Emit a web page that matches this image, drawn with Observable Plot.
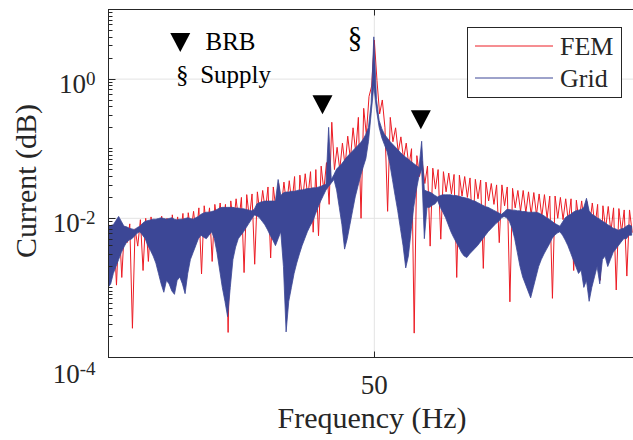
<!DOCTYPE html>
<html><head><meta charset="utf-8">
<script src="https://cdn.jsdelivr.net/npm/d3@7"></script>
<script src="https://cdn.jsdelivr.net/npm/@observablehq/plot@0.6"></script>
<style>
body{margin:0;background:#fff;}
svg{font-family:"Liberation Serif","Times New Roman",serif;}
</style>
</head><body><div id="chart"></div>
<script>
// Frequency grid (Hz) of the spectra
const freqStart = 30, freqStep = 0.2;
// log10 of current amplitude, FEM model (red line)
const femLog = [
-2.08,-2.4,-2.15,-2.96,-2.05,-2.85,-2.12,-2.35,-2.08,-3.58,
-2.15,-2.4,-2.02,-2.75,-2.0,-2.62,-1.98,-2.3,-2.03,-2.35,
-1.97,-2.25,-2.0,-2.7,-1.95,-2.3,-1.98,-2.25,-1.93,-2.58,
-1.92,-2.2,-1.9,-2.25,-1.85,-2.8,-1.82,-2.15,-1.85,-2.62,
-1.8,-2.1,-1.78,-2.15,-1.8,-3.64,-1.75,-2.1,-1.72,-2.05,
-1.7,-2.78,-1.66,-2.0,-1.65,-2.66,-1.62,-1.95,-1.6,-1.9,
-1.55,-2.57,-1.55,-1.88,-1.5,-1.85,-1.48,-1.82,-1.46,-1.8,
-1.4,-2.4,-1.38,-1.75,-1.36,-1.7,-1.33,-2.2,-1.3,-2.25,
-1.25,-1.6,-1.2,-1.8,-0.62,-1.3,-0.98,-1.3,-0.92,-1.25,
-0.82,-1.15,-0.7,-1.05,-0.55,-2.0,-0.42,-0.8,-0.25,-0.1,
0.56,-0.02,-0.5,-0.3,-0.7,-1.9,-0.55,-0.9,-0.7,-1.05,
-0.83,-1.15,-0.92,-1.25,-1.0,-3.65,-1.1,-1.4,-1.18,-1.5,
-1.25,-2.4,-1.28,-1.58,-1.3,-2.3,-1.33,-1.62,-1.35,-1.65,
-1.37,-2.85,-1.38,-1.68,-1.4,-1.7,-1.42,-2.2,-1.44,-1.72,
-1.45,-2.72,-1.48,-1.75,-1.5,-1.8,-1.52,-2.35,-1.52,-1.82,
-1.55,-3.2,-1.57,-1.85,-1.6,-1.9,-1.6,-1.92,-1.62,-1.95,
-1.63,-1.95,-1.65,-1.98,-1.66,-2.0,-1.68,-3.15,-1.68,-2.0,
-1.7,-2.02,-1.72,-2.05,-1.72,-2.75,-1.74,-2.05,-1.75,-2.1,
-1.76,-2.1,-1.78,-2.12,-1.8,-2.89,-1.82,-2.15,-1.83,-2.2,
-1.85,-3.03,-1.86,-2.2,-1.88,-2.83,-1.88,-2.2
];
// log10 of grid-measured current: upper edge of the dense blue band
const gridUpperLog = [
-2.12,-2.11,-2.10,-2.04,-1.98,-2.05,-2.12,-2.13,-2.15,-2.16,
-2.17,-2.14,-2.12,-2.08,-2.05,-2.04,-2.03,-2.02,-2.02,-2.01,
-2.0,-2.01,-2.02,-2.01,-2.0,-2.02,-2.03,-2.02,-2.02,-2.01,
-2.0,-2.01,-2.02,-2.0,-1.98,-1.95,-1.93,-1.92,-1.92,-1.91,
-1.9,-1.88,-1.86,-1.85,-1.85,-1.85,-1.85,-1.85,-1.86,-1.86,
-1.87,-1.87,-1.88,-1.89,-1.9,-1.88,-1.8,-1.78,-1.77,-1.76,
-1.76,-1.76,-1.76,-1.76,-1.45,-1.68,-1.64,-1.63,-1.63,-1.62,
-1.62,-1.61,-1.6,-1.6,-1.59,-1.58,-1.58,-1.57,-1.57,-1.56,
-1.55,-1.53,-1.52,-0.7,-1.45,-1.38,-1.3,-1.26,-1.22,-1.17,
-1.12,-1.08,-1.04,-1.0,-0.96,-0.92,-0.87,-0.8,-0.7,-0.35,
0.6,-0.3,-0.6,-0.72,-0.8,-0.85,-0.9,-0.94,-0.98,-1.02,
-1.06,-1.1,-1.13,-1.16,-1.19,-1.22,-1.25,-1.28,-0.9,-1.6,
-1.62,-1.63,-1.65,-1.68,-1.7,-1.68,-1.67,-1.67,-1.67,-1.67,
-1.68,-1.68,-1.69,-1.7,-1.71,-1.72,-1.73,-1.75,-1.76,-1.78,
-1.8,-1.82,-1.84,-1.85,-1.87,-1.89,-1.91,-1.93,-1.95,-1.92,
-1.88,-1.88,-1.89,-1.89,-1.9,-1.9,-1.91,-1.91,-1.92,-1.92,
-1.92,-1.92,-1.93,-1.95,-1.97,-2.0,-2.02,-2.05,-2.08,-2.1,
-2.12,-2.06,-2.0,-1.97,-1.95,-1.92,-1.9,-1.89,-1.88,-1.85,
-1.72,-1.9,-1.95,-1.97,-2.0,-2.02,-2.05,-2.07,-2.1,-2.12,
-2.15,-2.16,-2.18,-2.16,-2.15,-2.12,-2.1,-2.12
];
// log10 of grid-measured current: lower edge of the dense blue band
const gridLowerLog = [
-3.0,-2.95,-2.8,-2.7,-2.6,-2.5,-2.42,-2.35,-2.32,-2.3,
-2.26,-2.22,-2.2,-2.25,-2.3,-2.4,-2.47,-2.55,-2.65,-2.8,
-2.95,-3.07,-2.9,-2.95,-3.05,-3.1,-2.9,-2.85,-2.95,-3.09,
-2.8,-2.6,-2.5,-2.4,-2.3,-2.25,-2.28,-2.3,-2.25,-2.2,
-2.3,-2.5,-2.75,-3.0,-3.2,-3.42,-3.0,-2.6,-2.42,-2.3,
-2.25,-2.2,-2.14,-2.08,-2.02,-1.96,-1.97,-2.0,-2.05,-2.1,
-2.17,-2.25,-2.32,-2.4,-2.3,-2.2,-2.7,-3.64,-3.2,-3.0,
-2.8,-2.65,-2.52,-2.4,-2.3,-2.2,-2.12,-2.05,-1.95,-1.85,
-1.76,-1.68,-1.6,-1.55,-1.5,-1.45,-1.6,-1.85,-2.1,-2.45,
-2.3,-2.1,-1.9,-1.7,-1.55,-1.4,-1.27,-1.15,-0.9,-0.5,
-0.1,-0.45,-0.7,-0.85,-0.95,-1.05,-1.22,-1.45,-1.68,-1.9,
-2.15,-2.4,-2.72,-2.55,-2.2,-1.85,-1.6,-1.4,-1.3,-2.3,
-1.85,-1.85,-1.82,-1.8,-1.75,-1.85,-1.92,-2.0,-2.1,-2.2,
-2.28,-2.35,-2.42,-2.5,-2.55,-2.57,-2.52,-2.48,-2.44,-2.4,
-2.35,-2.3,-2.25,-2.2,-2.16,-2.12,-2.08,-2.05,-2.0,-1.98,
-2.0,-2.05,-2.15,-2.3,-2.5,-2.7,-2.85,-2.95,-3.05,-3.15,
-3.0,-2.85,-2.7,-2.6,-2.52,-2.45,-2.38,-2.3,-2.25,-2.22,
-2.2,-2.25,-2.32,-2.4,-2.5,-2.6,-2.7,-2.8,-2.75,-3.0,
-2.9,-3.2,-3.0,-2.85,-2.7,-2.95,-2.6,-2.55,-2.7,-2.6,
-2.5,-2.45,-2.4,-2.35,-2.3,-2.3,-2.25,-2.25
];
const seriesNames = ["FEM", "Grid"];
const seriesColors = ["#ec1c24", "#3c4796"];
const yTickValues = [1e-4, 1e-2, 1];
const xTickValues = [50];
// annotation markers (frequency, amplitude)
const brbMarkers = [{f: 46.1, v: 0.42}, {f: 53.5, v: 0.257}, {f: 35.4, v: 3.3}];
const annoTexts = [
  {f: 37.3, v: 3.4, t: "BRB", size: 25},
  {f: 35.55, v: 1.14, t: "§", size: 25, anchor: "middle"},
  {f: 36.9, v: 1.14, t: "Supply", size: 25},
  {f: 48.55, v: 3.9, t: "§", size: 29, anchor: "middle"}
];

const fem = femLog.map((v, i) => ({f: freqStart + i * freqStep, v: Math.pow(10, v)}));
const grid = gridUpperLog.map((v, i) => ({
  f: freqStart + i * freqStep, hi: Math.pow(10, v), lo: Math.pow(10, gridLowerLog[i])
}));

const minorTicks = [];
for (let e = -4; e <= 0; e++) for (let m = 1; m <= 9; m++) {
  if (m === 1 && e % 2 === 0) continue;
  minorTicks.push(m * Math.pow(10, e));
}

const downTriangle = {draw(ctx) { ctx.moveTo(-10, -10); ctx.lineTo(10, -10); ctx.lineTo(0, 9); ctx.closePath(); }};

const axisColor = "#262626";
const gridColor = "#e3e3e3";

const svg = Plot.plot({
  width: 633, height: 440,
  marginLeft: 108, marginRight: 0, marginTop: 9, marginBottom: 83,
  x: {domain: [30, 69.5]},
  y: {type: "log", domain: [1e-4, 10]},
  style: {fontFamily: "Liberation Serif", background: "white", color: axisColor},
  marks: [
    Plot.gridX(xTickValues, {stroke: gridColor, strokeOpacity: 1}),
    Plot.gridY([1e-2, 1], {stroke: gridColor, strokeOpacity: 1}),
    Plot.line(fem, {x: "f", y: "v", stroke: seriesColors[0], strokeWidth: 1, clip: true}),
    Plot.areaY(grid, {x: "f", y1: "lo", y2: "hi", fill: seriesColors[1], stroke: seriesColors[1],
      strokeWidth: 0.8, clip: true}),
    Plot.ruleY([1e-4, 10], {stroke: axisColor}),
    Plot.ruleX([30], {stroke: axisColor}),
    Plot.axisY(yTickValues, {tickSize: 0, tickPadding: 13, fontSize: 27, label: null, fill: "#262626",
      tickFormat: d => String(Math.round(Math.log10(d)))}),
    Plot.axisX(xTickValues, {tickSize: 0, tickPadding: 17, fontSize: 27, label: null, fill: "#262626"}),
    Plot.dot(brbMarkers, {x: "f", y: "v", symbol: downTriangle, fill: "black", stroke: "none"}),
    ...annoTexts.map(a => Plot.text([a], {x: "f", y: "v", text: "t", fontSize: a.size, fill: "black",
      textAnchor: a.anchor || "start"}))
  ]
});

const s = d3.select(svg);
const xs = svg.scale("x"), ys = svg.scale("y");
// inward-pointing ticks (MATLAB style), placed through the plot's own scales
const tg = s.append("g").attr("stroke", axisColor).attr("stroke-width", 1);
const x0 = Math.round(xs.apply(30)) + 0.5;
minorTicks.forEach(v => {
  const y = Math.round(ys.apply(v)) + 0.5;
  tg.append("line").attr("x1", x0).attr("x2", x0 + 4).attr("y1", y).attr("y2", y);
});
yTickValues.forEach(v => {
  const y = Math.round(ys.apply(v)) + 0.5;
  tg.append("line").attr("x1", x0).attr("x2", x0 + 7).attr("y1", y).attr("y2", y);
});
xTickValues.forEach(v => {
  const x = Math.round(xs.apply(v)) + 0.5;
  const yb = Math.round(ys.apply(1e-4)) + 0.5, yt = Math.round(ys.apply(10)) + 0.5;
  tg.append("line").attr("x1", x).attr("x2", x).attr("y1", yb).attr("y2", yb - 6);
  tg.append("line").attr("x1", x).attr("x2", x).attr("y1", yt).attr("y2", yt + 6);
});

// superscript exponents on the labelled decades
s.selectAll('g[aria-label="y-axis tick label"] text').each(function () {
  const e = this.textContent;
  if (!e) return;
  const t = d3.select(this);
  t.text(null);
  t.append("tspan").text("10");
  t.append("tspan").attr("dy", "-0.42em").attr("font-size", "19px").text(e);
  const cur = t.attr("transform") || "";
  t.attr("transform", cur + ` translate(0,${e === "-4" ? 17 : 5})`);
});

// axis titles
s.append("text").attr("x", 372).attr("y", 428).attr("text-anchor", "middle")
  .attr("font-size", 30).attr("fill", "#262626").text("Frequency (Hz)");
s.append("text").attr("transform", "translate(36,181) rotate(-90)").attr("text-anchor", "middle")
  .attr("font-size", 30).attr("fill", "#262626").text("Current (dB)");

// legend
const lg = s.append("g");
lg.append("rect").attr("x", 467.5).attr("y", 27.5).attr("width", 154).attr("height", 70)
  .attr("fill", "white").attr("stroke", "#262626").attr("stroke-width", 1);
seriesNames.forEach((n, i) => {
  const y = 46 + i * 32;
  lg.append("line").attr("x1", 475).attr("x2", 553).attr("y1", y).attr("y2", y)
    .attr("stroke", seriesColors[i]).attr("stroke-width", 1);
  lg.append("text").attr("x", 560).attr("y", y + 9).attr("text-anchor", "start")
    .attr("font-size", 26).attr("fill", "#262626").text(n);
});

document.getElementById("chart").appendChild(svg);
</script>
</body></html>
